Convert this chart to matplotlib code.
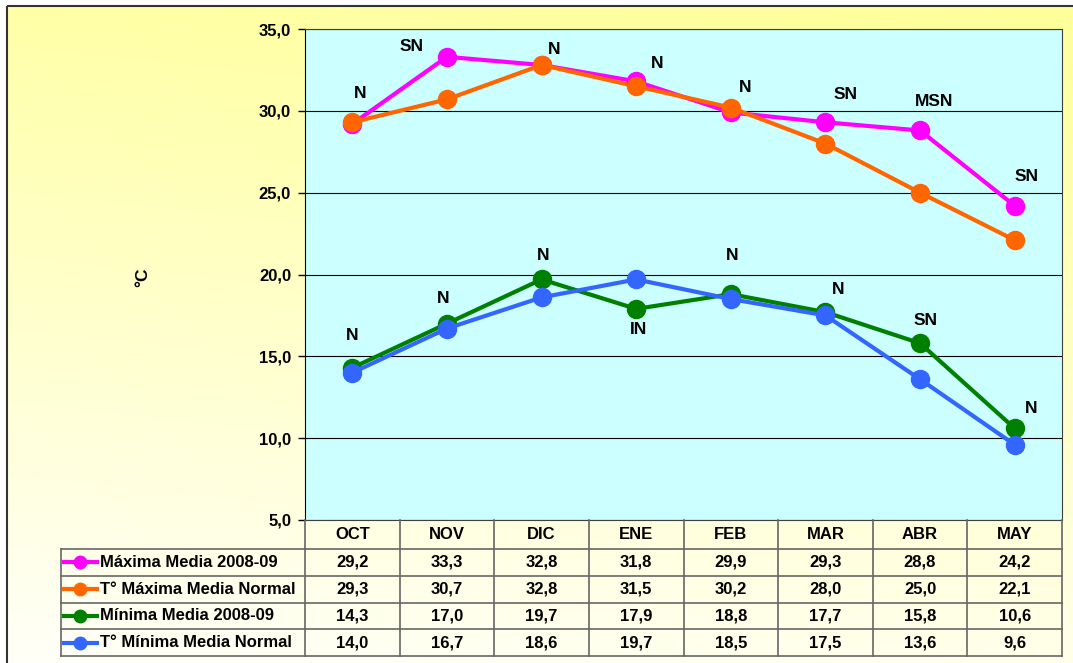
"""
    Temperaturas maximas y minimas medias 2008-09 vs normal, con tabla de datos
"""
import numpy as np
import matplotlib.pyplot as plt
from matplotlib.patches import Rectangle

plt.rcParams['font.family'] = ['Liberation Sans', 'DejaVu Sans']
plt.rcParams['font.weight'] = 'bold'

# data
months = ["OCT", "NOV", "DIC", "ENE", "FEB", "MAR", "ABR", "MAY"]
series_names = ["Máxima Media 2008-09", "T° Máxima Media Normal",
                "Mínima Media 2008-09", "T° Mínima Media Normal"]
max_2008 = [29.2, 33.3, 32.8, 31.8, 29.9, 29.3, 28.8, 24.2]
max_normal = [29.3, 30.7, 32.8, 31.5, 30.2, 28.0, 25.0, 22.1]
min_2008 = [14.3, 17.0, 19.7, 17.9, 18.8, 17.7, 15.8, 10.6]
min_normal = [14.0, 16.7, 18.6, 19.7, 18.5, 17.5, 13.6, 9.6]
max_labels = ["N", "SN", "N", "N", "N", "SN", "MSN", "SN"]
min_labels = ["N", "N", "N", "IN", "N", "N", "SN", "N"]
yticks = [5, 10, 15, 20, 25, 30, 35]

# styles / positions
colors = ["#FF00FF", "#FF6600", "#008000", "#3366FF"]
max_offsets = [(8, 30), (-35, 10), (13, 16), (21, 18), (14, 25), (20, 28), (14, 29), (12, 29)]
min_offsets = [(0, 32), (-4, 25), (2, 24), (2, -21), (1, 39), (13, 23), (6, 23), (16, 20)]

W, H = 1073, 663


def box(x0, y0, x1, y1):
    #pixel box -> figure fraction
    return [x0 / W, 1 - y1 / H, (x1 - x0) / W, (y1 - y0) / H]


def fmt(v):
    return f"{v:.1f}".replace('.', ',')


fig = plt.figure(figsize=(W / 100, H / 100), dpi=100)

#gradient background with frame
bg = fig.add_axes([0, 0, 1, 1], zorder=-10)
bg.set_xlim(0, W)
bg.set_ylim(H, 0)
bg.axis('off')
ty = np.linspace(0, 1, 200)[:, None]
tx = np.linspace(0, 1, 300)[None, :]
t = np.clip(0.85 * ty + 0.15 * (1 - tx), 0, 1)
top = np.array([255, 255, 153]) / 255
bot = np.array([255, 255, 248]) / 255
grad = top[None, None, :] * (1 - t[..., None]) + bot[None, None, :] * t[..., None]
bg.imshow(grad, extent=(7, W, H, 6), aspect='auto', interpolation='bilinear')
bg.add_patch(Rectangle((7, 6), W, H, fill=False, ec='#333333', lw=1.5))

#main chart
ax = fig.add_axes(box(305, 29, 1062, 520))
ax.set_facecolor('#CCFFFF')
x = np.arange(len(months))
all_series = [max_2008, max_normal, min_2008, min_normal]
for vals, c in zip(all_series, colors):
    ax.plot(x, vals, color=c, lw=3, marker='o', ms=13, zorder=3)

for i, lab in enumerate(max_labels):
    ax.annotate(lab, (x[i], max_2008[i]), xytext=max_offsets[i], textcoords='offset pixels',
                ha='center', va='center', fontsize=12.5, fontweight='bold', zorder=4)
for i, lab in enumerate(min_labels):
    ax.annotate(lab, (x[i], min_2008[i]), xytext=min_offsets[i], textcoords='offset pixels',
                ha='center', va='center', fontsize=12.5, fontweight='bold', zorder=4)

ax.set_xlim(-0.5, len(months) - 0.5)
ax.set_ylim(5, 35)
ax.set_xticks([])
ax.set_yticks(yticks)
ax.set_yticklabels([fmt(v) for v in yticks], fontsize=12, fontweight='bold')
ax.tick_params(axis='y', direction='out', length=5, width=1, pad=5)
ax.yaxis.grid(True, color='black', lw=0.8)
ax.set_axisbelow(True)
for s in ['top', 'right', 'bottom']:
    ax.spines[s].set_color('#404040')
ax.spines['left'].set_color('black')

fig.text(143 / W, 1 - 277 / H, "°C", rotation=90, ha='center', va='center',
         fontsize=12.5, fontweight='bold')

#data table under the chart
L = (305 - 61) / ((1062 - 305) / len(months))
tax = fig.add_axes(box(61, 520, 1062, 656))
tax.set_xlim(-0.5 - L, len(months) - 0.5)
tax.set_ylim(136, 0)
tax.axis('off')
hdr = 29
row_h = (136 - hdr) / len(series_names)
lc = '#666666'
tax.plot([-0.5, len(months) - 0.5], [hdr, hdr], color=lc, lw=1.2, clip_on=False)
for j in range(len(series_names)):
    yb = hdr + (j + 1) * row_h
    tax.plot([-0.5 - L, len(months) - 0.5], [yb, yb], color=lc, lw=1.2, clip_on=False)
tax.plot([-0.5 - L, -0.5 - L], [hdr, 136], color=lc, lw=1.2, clip_on=False)
for i in range(len(months) + 1):
    tax.plot([i - 0.5, i - 0.5], [0, 136], color=lc, lw=1.2, clip_on=False)
tax.plot([-0.5 - L, -0.5], [hdr, hdr], color=lc, lw=1.2, clip_on=False)

for i, m in enumerate(months):
    tax.text(i, hdr / 2, m, ha='center', va='center', fontsize=12, fontweight='bold')
for j, (name, vals, c) in enumerate(zip(series_names, all_series, colors)):
    yc = hdr + (j + 0.5) * row_h
    x0 = -0.5 - L
    tax.plot([x0 + 0.035, x0 + 0.38], [yc, yc], color=c, lw=3, clip_on=False)
    tax.plot([x0 + 0.2], [yc], 'o', color=c, ms=9, clip_on=False)
    tax.text(x0 + 0.41, yc, name, ha='left', va='center', fontsize=12, fontweight='bold')
    for i, v in enumerate(vals):
        tax.text(i, yc, fmt(v), ha='center', va='center', fontsize=12, fontweight='bold')

fig.savefig("out.png", dpi=100)
